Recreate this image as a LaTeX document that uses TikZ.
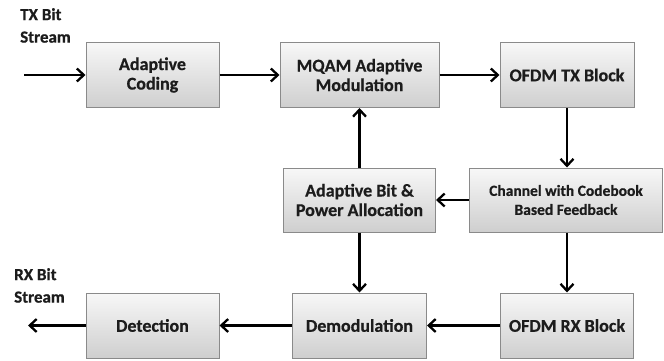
\documentclass[tikz,border=0pt]{standalone}
\usepackage{fontspec}
\setmainfont{Carlito}[BoldFeatures={FakeBold=0.6}]
\usepackage{tikz}
\usetikzlibrary{arrows.meta, positioning, shadows}

\definecolor{boxline}{HTML}{8A8A8A}
\definecolor{boxtext}{HTML}{1C1C1C}

\tikzset{
  block/.style={draw=boxline, line width=1pt, top color=gray!6, bottom color=gray!38,
    minimum width=#1, minimum height=65pt, align=center, inner sep=2pt,
    font=\fontsize{18}{19.5}\selectfont\bfseries, text=boxtext},
  block/.default=134pt,
  flow/.style={line width=2.5pt, -{Straight Barb[length=7pt, width=13pt, line width=2.3pt]}},
  streamlabel/.style={align=left, inner sep=0pt, anchor=north west,
    font=\fontsize{17}{22.5}\selectfont\bfseries, text=boxtext}
}

\begin{document}
\begin{tikzpicture}[x=1pt, y=-1pt]
  \useasboundingbox (0,0) rectangle (664,361);
  % transmit row
  \node [block=133pt] (coding) at (152.5,75) {Adaptive\\Coding};
  \node [block=159pt] (mqam)   at (359.5,75) {MQAM Adaptive\\Modulation};
  \node [block=134pt] (ofdmtx) at (567,75)   {OFDM TX Block};
  % feedback row
  \node [block=193pt, minimum height=64pt, font=\fontsize{15.5}{19}\selectfont\bfseries]
        (channel) at (566,200) {Channel with Codebook\\Based Feedback};
  \node [block=152pt, minimum height=64pt] (alloc) at (359.5,200) {Adaptive Bit \&\\Power Allocation};
  % receive row
  \node [block=133pt] (detect) at (152.5,325.5) {Detection};
  \node [block=134pt] (demod)  at (359.5,325.5) {Demodulation};
  \node [block=133pt] (ofdmrx) at (567,325.5)   {OFDM RX Block};
  % stream labels
  \node [streamlabel] (txlabel) at (20,8)   {TX Bit\\Stream};
  \node [streamlabel] (rxlabel) at (14,268) {RX Bit\\Stream};
  \coordinate (txin)  at (24,75);
  \coordinate (rxout) at (28,325.5);
  % connectors
  \draw [flow] (txin) -- (coding);
  \draw [flow] (coding) -- (mqam);
  \draw [flow] (mqam) -- (ofdmtx);
  \draw [flow] (ofdmtx) -- (channel.north -| ofdmtx);
  \draw [flow] (channel) -- (alloc);
  \draw [flow] (alloc) -- (mqam);
  \draw [flow] (alloc) -- (demod);
  \draw [flow] (channel.south -| ofdmrx) -- (ofdmrx);
  \draw [flow] (ofdmrx) -- (demod);
  \draw [flow] (demod) -- (detect);
  \draw [flow] (detect) -- (rxout);
\end{tikzpicture}
\end{document}
